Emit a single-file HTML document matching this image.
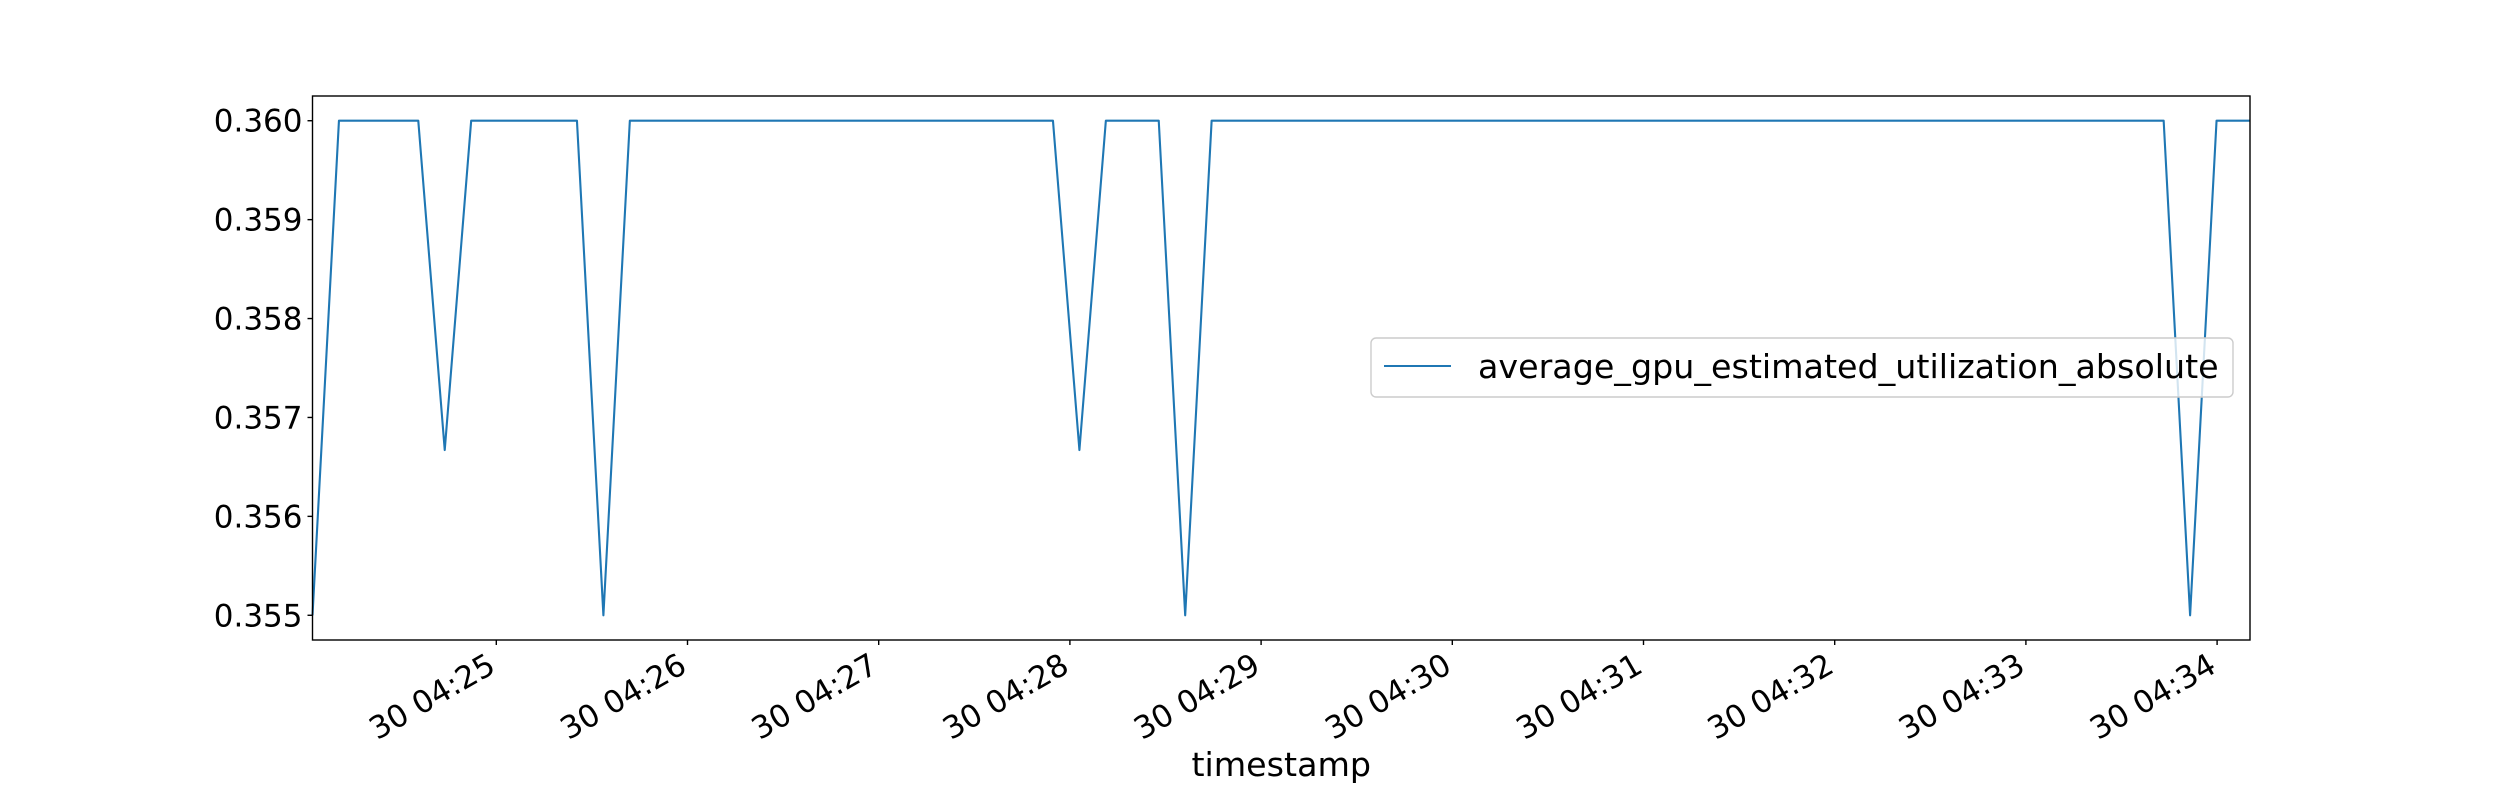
<!DOCTYPE html>
<html><head><meta charset="utf-8"><style>
body{margin:0;background:#fff}
svg text{font-family:"DejaVu Sans","Liberation Sans",sans-serif;fill:#000}
</style></head><body>
<svg width="2500" height="800" xmlns="http://www.w3.org/2000/svg">
<g id="plot"></g>
</svg>
<script>
const values=[0.355,0.36,0.36,0.36,0.36,0.35667,0.36,0.36,0.36,0.36,0.36,0.355,0.36,0.36,0.36,0.36,0.36,0.36,0.36,0.36,0.36,0.36,0.36,0.36,0.36,0.36,0.36,0.36,0.36,0.35667,0.36,0.36,0.36,0.355,0.36,0.36,0.36,0.36,0.36,0.36,0.36,0.36,0.36,0.36,0.36,0.36,0.36,0.36,0.36,0.36,0.36,0.36,0.36,0.36,0.36,0.36,0.36,0.36,0.36,0.36,0.36,0.36,0.36,0.36,0.36,0.36,0.36,0.36,0.36,0.36,0.36,0.355,0.36,0.36];
const startSec=24*60+2.3;
const stepSec=8.30;
const lastGapSec=10.5;
const yTicks=[0.355,0.356,0.357,0.358,0.359,0.360];
const xTickMinutes=[25,26,27,28,29,30,31,32,33,34];
const xTickLabels=["30 04:25","30 04:26","30 04:27","30 04:28","30 04:29","30 04:30","30 04:31","30 04:32","30 04:33","30 04:34"];

const L=312.5,R=2250,T=96,B=640;
const times=values.map((v,i)=>startSec+i*stepSec+(i===values.length-1?lastGapSec-stepSec:0));
const t0=startSec, t1=times[times.length-1];
const xs=s=>L+(s-t0)/(t1-t0)*(R-L);
const yMin=0.35475,yMax=0.36025;
const ys=v=>B-(v-yMin)/(yMax-yMin)*(B-T);
const NS="http://www.w3.org/2000/svg";
const g=document.getElementById('plot');
function mk(tag,attrs,txt){const e=document.createElementNS(NS,tag);for(const k in attrs)e.setAttribute(k,attrs[k]);if(txt!==undefined)e.textContent=txt;g.appendChild(e);return e;}
// x scale anchored on tick positions (191 px/min, 04:25 at 496.3)
const xt=s=>496.3+(s-25*60)/60*191.2;

const pts=values.map((v,i)=>xs(times[i]).toFixed(2)+','+ys(v).toFixed(2)).join(' ');
const line=mk('polyline',{points:pts,fill:'none',stroke:'#1f77b4','stroke-width':2.1,'stroke-linejoin':'round'});



const fr=mk('rect',{x:L,y:T,width:R-L,height:B-T,fill:'none',stroke:'#000','stroke-width':1.4});



yTicks.forEach(v=>{
  const y=ys(v);
  const tk=mk('line',{x1:L-5,x2:L,y1:y,y2:y,stroke:'#000','stroke-width':1.4});
  
  
  const tx=mk('text',{x:L-10,y:y+11,'text-anchor':'end','font-size':'31px'},v.toFixed(3));
  
  
});
xTickMinutes.forEach((m,i)=>{
  const x=xt(m*60);
  const tk=mk('line',{x1:x,x2:x,y1:B,y2:B+5,stroke:'#000','stroke-width':1.4});
  
  
  const ax=x-10;
  const tx=mk('text',{x:ax,y:B+34,'text-anchor':'end','font-size':'31px',transform:`rotate(-30 ${ax} ${B+12})`},xTickLabels[i]);
  
  
});
const xl=mk('text',{x:(L+R)/2,y:776,'text-anchor':'middle','font-size':'33.3px'},'timestamp');


const lg=mk('rect',{x:1371,y:338,width:862,height:59,rx:5,fill:'#fff','fill-opacity':0.8,stroke:'#ccc','stroke-width':1.4});


const ll=mk('line',{x1:1384,x2:1451,y1:366,y2:366,stroke:'#1f77b4','stroke-width':2.1});


const lt=mk('text',{x:1478,y:378,'font-size':'33.3px'},'average_gpu_estimated_utilization_absolute');


</script>
</body></html>
